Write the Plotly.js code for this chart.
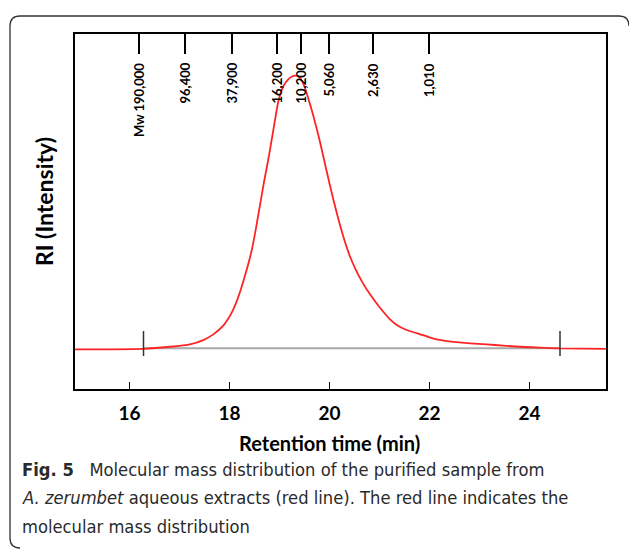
<!DOCTYPE html>
<html>
<head>
<meta charset="utf-8">
<script src="https://cdn.plot.ly/plotly-3.0.1.min.js"></script>
<style>
  html, body { margin: 0; padding: 0; background: #ffffff; }
  #chart { width: 629px; height: 550px; }
</style>
</head>
<body>
<div id="chart"></div>
<script>
// Retention time (min) and RI intensity (relative, baseline = 0, peak = 1)
const retentionTime = [14.91, 16.27, 16.81, 17.21, 17.476, 17.676, 17.876, 17.97, 18.05, 18.13,
  18.21, 18.29, 18.37, 18.45, 18.53, 18.61, 18.69, 18.77, 18.85, 18.91,
  18.97, 19.03, 19.09, 19.17, 19.25, 19.324, 19.39, 19.45, 19.51, 19.57,
  19.65, 19.73, 19.81, 19.89, 19.97, 20.05, 20.13, 20.21, 20.31, 20.41,
  20.51, 20.65, 20.81, 21.01, 21.21, 21.37, 21.51, 21.65, 21.81, 21.97,
  22.144, 22.31, 22.476, 22.81, 23.144, 23.47, 23.81, 24.21, 24.61, 25.53];
const riIntensity = [-0.0037, -0.0018, 0.0059, 0.0147, 0.0304, 0.0514, 0.0836, 0.1075, 0.1332, 0.1662,
  0.2065, 0.2542, 0.3056, 0.3643, 0.4413, 0.5257, 0.6101, 0.6871, 0.7715, 0.8375,
  0.8999, 0.9402, 0.9659, 0.9861, 0.9971, 1.0000, 0.9952, 0.9806, 0.9549, 0.9200,
  0.8705, 0.8155, 0.7568, 0.6926, 0.6284, 0.5660, 0.5073, 0.4523, 0.3899, 0.3368,
  0.2946, 0.2450, 0.1981, 0.1489, 0.1067, 0.0833, 0.0701, 0.0609, 0.0517, 0.0422,
  0.0330, 0.0279, 0.0242, 0.0187, 0.0147, 0.0099, 0.0059, 0.0026, 0.0000, -0.0015];

// Integration limits (min)
const integrationLimits = [16.28, 24.61];

// Molecular-weight calibration markers (retention time, label)
const mwTimes = [16.19, 17.11, 18.05, 18.95, 19.43, 19.98, 20.87, 21.99];
const mwLabels = ["Mw 190,000", "96,400", "37,900", "16,200", "10,200", "5,060", "2,630", "1,010"];

// Axis ticks
const xTickVals = [16, 18, 20, 22, 24];
const xTickText = ["16", "18", "20", "22", "24"];

const xTitle = "Retention time (min)";
const yTitle = "RI (Intensity)";
const captionLines = [
  "<b>Fig. 5</b>&nbsp;&nbsp;&nbsp;Molecular mass distribution of the purified sample from",
  "<i>A. zerumbet</i> aqueous extracts (red line). The red line indicates the",
  "molecular mass distribution"
];

const xRange = [14.91, 25.53];
const yRange = [-0.149, 1.153];
const chartFont = "Lato, 'Open Sans', sans-serif";
const capFont = "'Liberation Sans Narrow', 'DejaVu Sans Condensed', 'Noto Sans', sans-serif";

// integration limit tick segments
const limX = [], limY = [];
integrationLimits.forEach(t => { limX.push(t, t, null); limY.push(0.0635, -0.028, null); });

const traces = [
  { x: integrationLimits, y: [0, 0], type: 'scatter', mode: 'lines',
    line: { color: '#a8a8a8', width: 2 }, hoverinfo: 'skip', showlegend: false },
  { x: retentionTime, y: riIntensity, type: 'scatter', mode: 'lines',
    line: { color: '#ff2424', width: 1.8, shape: 'spline', smoothing: 0.6 }, showlegend: false },
  { x: limX, y: limY, type: 'scatter', mode: 'lines',
    line: { color: '#333333', width: 1.5 }, hoverinfo: 'skip', showlegend: false },
  { x: mwTimes, y: mwTimes.map(() => null), xaxis: 'x2', type: 'scatter', mode: 'markers',
    hoverinfo: 'skip', showlegend: false }
];

const annotations = [];
mwTimes.forEach((t, i) => {
  annotations.push({ x: t, xref: 'x', y: 0.924, yref: 'paper', text: '<b>' + mwLabels[i] + '</b>',
    textangle: -90, showarrow: false, xanchor: 'center', yanchor: 'top',
    font: { family: chartFont, size: 13, color: '#000' } });
});
annotations.push({ x: 20, xref: 'x', y: -0.152, yref: 'paper', text: '<b>' + xTitle + '</b>',
  showarrow: false, xanchor: 'center', yanchor: 'middle',
  font: { family: chartFont, size: 20, color: '#000' } });
annotations.push({ x: -0.058, xref: 'paper', y: 0.527, yref: 'paper', text: '<b>' + yTitle + '</b>',
  textangle: -90, showarrow: false, xanchor: 'center', yanchor: 'middle',
  font: { family: chartFont, size: 23, color: '#000' } });
const capY = [-0.2254, -0.307, -0.386];
captionLines.forEach((line, i) => {
  annotations.push({ x: -0.1036, xref: 'paper', y: capY[i], yref: 'paper', text: line,
    showarrow: false, xanchor: 'left', yanchor: 'middle', align: 'left',
    font: { family: capFont, size: 18.2, color: '#2a2a2a' } });
});

const layout = {
  width: 629, height: 550,
  margin: { l: 75, r: 23, t: 34, b: 161, pad: 0 },
  paper_bgcolor: '#ffffff', plot_bgcolor: '#ffffff',
  showlegend: false,
  xaxis: {
    range: xRange, tickvals: xTickVals, ticktext: xTickText,
    ticks: 'inside', ticklen: 7, tickwidth: 1.5, tickcolor: '#000',
    showline: true, linecolor: '#000', linewidth: 2, mirror: false,
    showgrid: false, zeroline: false, ticklabelstandoff: 6,
    tickfont: { family: chartFont, size: 19, color: '#000', weight: 'bold' }
  },
  xaxis2: {
    overlaying: 'x', side: 'top', range: xRange, tickvals: mwTimes,
    ticks: 'inside', ticklen: 20, tickwidth: 2, tickcolor: '#000',
    showticklabels: false, showline: true, linecolor: '#000', linewidth: 2,
    showgrid: false, zeroline: false
  },
  yaxis: {
    range: yRange, showticklabels: false, ticks: '', showgrid: false, zeroline: false,
    showline: true, linecolor: '#000', linewidth: 2, mirror: true
  },
  annotations: annotations,
  shapes: [{
    type: 'path', xref: 'paper', yref: 'paper', layer: 'below',
    path: 'M -0.1224,-0.420 L -0.1224,1.0225 Q -0.1224,1.0507 -0.1036,1.0507 L 1.0245,1.0507 Q 1.0433,1.0507 1.0433,1.0225',
    line: { color: '#333333', width: 1.3 }
  }, {
    type: 'path', xref: 'paper', yref: 'paper', layer: 'below',
    path: 'M -0.1224,-0.420 Q -0.1224,-0.4479 -0.1036,-0.4479',
    line: { color: '#333333', width: 1.3 }
  }]
};

Plotly.newPlot('chart', traces, layout, { staticPlot: true, displayModeBar: false });
</script>
</body>
</html>
